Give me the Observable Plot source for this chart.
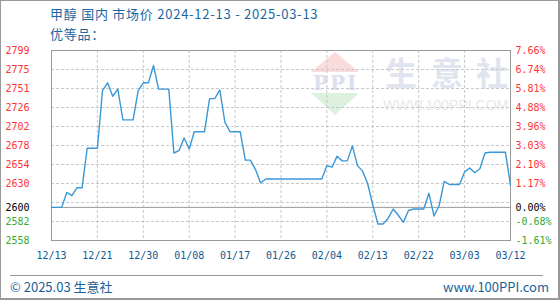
<!DOCTYPE html>
<html>
<head>
<meta charset="utf-8">
<script src="https://cdn.jsdelivr.net/npm/d3@7"></script>
<script src="https://cdn.jsdelivr.net/npm/@observablehq/plot@0.6"></script>
<style>
  html, body { margin: 0; padding: 0; background: #fff; }
  #wrap { position: relative; width: 560px; height: 300px; overflow: hidden; background: #fff; }
  #wrap .abs { position: absolute; white-space: nowrap; }
  #border { position: absolute; left: 0; top: 0; right: 0; bottom: 0; border-style: solid; border-color: #9a9a9a; border-width: 1px 2px 2px 1px; pointer-events: none; }
  #chart { position: absolute; left: 0; top: 0; }
  .title { font: 13px "Noto Sans CJK SC", "Noto Sans", sans-serif; color: #1b67a3; line-height: 16px; letter-spacing: 0.75px; }
  .foot { font: 13px "Noto Sans CJK SC", "Noto Sans", sans-serif; color: #1a5f96; line-height: 16px; }
  .wm { font: bold 32px "Noto Sans CJK SC", sans-serif; color: #e0e4ee; line-height: 34px; }
</style>
</head>
<body>
<div id="wrap">
  <div class="abs" style="left:311px;top:52px;width:0;height:0;border-left:24.5px solid transparent;border-right:24.5px solid transparent;border-bottom:20px solid #fbdcdc;"></div>
  <div class="abs" style="left:311px;top:93px;width:0;height:0;border-left:24.5px solid transparent;border-right:24.5px solid transparent;border-top:22px solid #dcf1de;"></div>
  <div class="abs" style="left:313px;top:73px;font:bold 20px 'DejaVu Serif',serif;color:#dbe0ee;letter-spacing:2px;line-height:20px;">PPI</div>
  <div class="abs wm" style="left:385px;top:54px;">生</div>
  <div class="abs wm" style="left:431px;top:54px;">意</div>
  <div class="abs wm" style="left:476px;top:54px;">社</div>
  <div class="abs" style="left:383px;top:98px;font:14px 'Liberation Sans',sans-serif;color:#e8e8e8;line-height:15px;">WWW.100PPI.COM</div>
  <div id="chart"></div>
  <div class="abs title" style="left:50px;top:6px;">甲醇 国内 市场价 2024-12-13 - 2025-03-13</div>
  <div class="abs title" style="left:50px;top:26px;">优等品：</div>
  <div class="abs" style="left:10px;top:275px;width:533px;height:0;border-top:1px solid #9a9a9a;"></div>
  <div class="abs foot" style="left:10px;top:279px;">© 2025.03 生意社</div>
  <div class="abs foot" style="right:11px;top:279px;">www.100PPI.com</div>
  <div id="border"></div>
</div>
<script>
// ---- data ----
const startDate = [2024, 11, 13]; // 2024-12-13 (UTC, month 0-based)
const prices = [
  2600, 2600, 2600, 2619, 2615, 2625, 2625, 2675, 2675, 2675,
  2748, 2758, 2741, 2750, 2711, 2711, 2711, 2748, 2758, 2758,
  2780, 2750, 2750, 2750, 2669, 2672, 2688, 2674, 2696, 2696,
  2696, 2738, 2738, 2749, 2708, 2696, 2696, 2696, 2660, 2660,
  2648, 2631, 2636, 2636, 2636, 2636, 2636, 2636, 2636, 2636,
  2636, 2636, 2636, 2636, 2653, 2651, 2665, 2659, 2659, 2678,
  2653, 2646, 2630, 2603, 2579, 2579, 2586, 2598, 2590, 2581,
  2596, 2598, 2598, 2598, 2618, 2589, 2602, 2633, 2629, 2629,
  2629, 2645, 2650, 2644, 2649, 2669, 2670, 2670, 2670, 2670,
  2628
];
const basePrice = 2600;
const yDomain = [2558, 2799];
const leftTickLabels = ["2799", "2775", "2751", "2726", "2702", "2678", "2654", "2630", "2600", "2582", "2558"];
const rightTickLabels = ["7.66%", "6.74%", "5.81%", "4.88%", "3.96%", "3.03%", "2.10%", "1.17%", "0.00%", "-0.68%", "-1.61%"];
const xTickLabels = ["12/13", "12/21", "12/30", "01/08", "01/17", "01/26", "02/04", "02/13", "02/22", "03/03", "03/12"];

// ---- build ----
const start = new Date(Date.UTC(...startDate));
const data = prices.map((p, i) => ({date: d3.utcDay.offset(start, i), price: p}));
const end = data[data.length - 1].date;
const nDiv = 10;
const stepDays = Math.round((prices.length - 1) / nDiv);
const yGrid = d3.range(1, nDiv).map(k => yDomain[0] + k * (yDomain[1] - yDomain[0]) / nDiv);
const xGrid = d3.range(1, nDiv).map(k => d3.utcDay.offset(start, k * stepDays));
const yLabels = leftTickLabels.map((l, i) => {
  const v = +l;
  return {v, left: l, right: rightTickLabels[i],
    color: v > basePrice ? "#ff3333" : v < basePrice ? "#33aa33" : "#000000"};
});
const xLabels = xTickLabels.map((l, k) => ({date: d3.utcDay.offset(start, k * stepDays), label: l}));
const mono = "'DejaVu Sans Mono', monospace";

const chart = Plot.plot({
  width: 560,
  height: 300,
  marginLeft: 51,
  marginRight: 50,
  marginTop: 50,
  marginBottom: 60,
  style: {background: "transparent", overflow: "visible"},
  x: {type: "utc", domain: [start, end], axis: null},
  y: {domain: yDomain, axis: null},
  marks: [
    Plot.ruleY(yGrid, {stroke: "#c8c8c8", strokeDasharray: "3,2"}),
    Plot.ruleX(xGrid, {stroke: "#c8c8c8", strokeDasharray: "3,2"}),
    Plot.ruleY([basePrice], {stroke: "#9a9a9a"}),
    Plot.frame({stroke: "#9a9a9a"}),
    Plot.line(data, {x: "date", y: "price", stroke: "#3a98d8", strokeWidth: 1.4}),
    Plot.text(yLabels, {y: "v", text: "left", fill: "color", frameAnchor: "left", textAnchor: "start", dx: -46, fontFamily: mono, fontSize: 10}),
    Plot.text(yLabels, {y: "v", text: "right", fill: "color", frameAnchor: "right", textAnchor: "start", dx: 5, fontFamily: mono, fontSize: 10}),
    Plot.text(xLabels, {x: "date", text: "label", frameAnchor: "bottom", dy: 18, fill: "#135a90", fontFamily: mono, fontSize: 10})
  ]
});
document.getElementById("chart").appendChild(chart);
</script>
</body>
</html>
